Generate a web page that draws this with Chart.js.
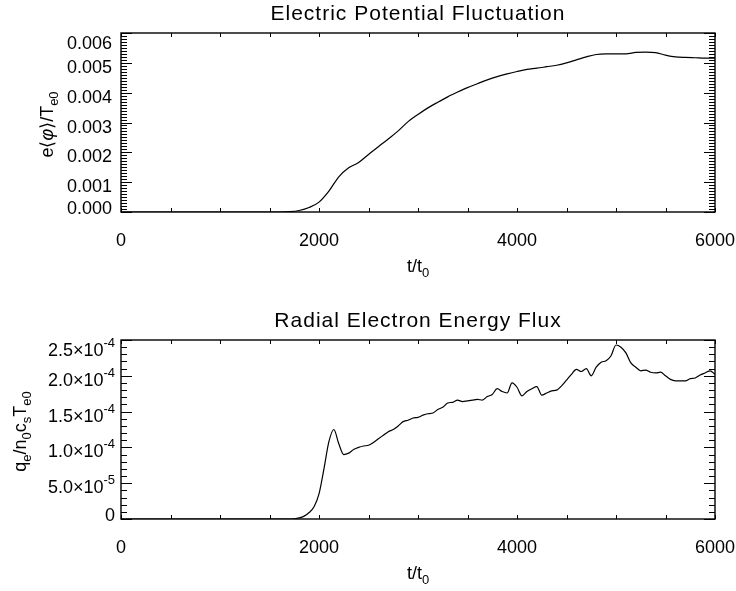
<!DOCTYPE html>
<html>
<head>
<meta charset="utf-8">
<title>Potential and flux</title>
<script src="https://cdn.jsdelivr.net/npm/chart.js@4.4.1/dist/chart.umd.min.js"></script>
<style>
  html, body { margin: 0; padding: 0; background: #fff; }
  #wrap { position: relative; width: 736px; height: 591px; }
  canvas { position: absolute; left: 0; }
</style>
</head>
<body>
<div id="wrap">
  <canvas id="phiChart" width="736" height="295" style="top:0"></canvas>
  <canvas id="fluxChart" width="736" height="296" style="top:295px"></canvas>
</div>
<script>
// --- data ---
const xTickVals = [0, 2000, 4000, 6000];
const xTickLabels = ['0', '2000', '4000', '6000'];

// potential fluctuation e<phi>/Te0 vs t/t0
const phiTime = [0, 1600, 1700, 1800, 1900, 2000, 2100, 2200, 2300, 2400, 2500, 2600, 2700, 2800, 2900,
  3000, 3100, 3200, 3300, 3400, 3500, 3600, 3700, 3800, 3900, 4000, 4100, 4200, 4300, 4400, 4500,
  4600, 4700, 4800, 4900, 5000, 5100, 5200, 5300, 5400, 5500, 5600, 5700, 5800, 5900, 6000];
const phiVals = [0, 0, 0.00001, 0.00005, 0.00015, 0.00033, 0.0007, 0.00118, 0.00148, 0.00166, 0.00193,
  0.00219, 0.00245, 0.00272, 0.00303, 0.00327, 0.00349, 0.00368, 0.00386, 0.00402, 0.00417, 0.0043,
  0.00443, 0.00454, 0.00463, 0.00471, 0.00478, 0.00482, 0.00487, 0.00492, 0.005, 0.0051, 0.0052,
  0.00528, 0.0053, 0.0053, 0.0053, 0.00535, 0.00536, 0.00534, 0.00526, 0.0052, 0.00518, 0.00517,
  0.00516, 0.00516];
const phiTicks = [0, 0.001, 0.002, 0.003, 0.004, 0.005, 0.006];
const phiTickLabels = ['0.000', '0.001', '0.002', '0.003', '0.004', '0.005', '0.006'];

// radial electron energy flux qe/(n0 cs Te0) vs t/t0
const fluxTime = [0, 1600, 1700, 1750, 1800, 1850, 1900, 1950, 2000, 2050, 2100, 2150, 2200, 2250,
  2300, 2350, 2400, 2450, 2500, 2550, 2600, 2650, 2700, 2750, 2800, 2850, 2900, 2950, 3000, 3050,
  3100, 3150, 3200, 3250, 3300, 3350, 3400, 3450, 3500, 3550, 3600, 3650, 3700, 3750, 3800, 3850,
  3900, 3950, 4000, 4050, 4100, 4150, 4200, 4250, 4300, 4350, 4400, 4450, 4500, 4550, 4600, 4650,
  4700, 4750, 4800, 4850, 4900, 4950, 5000, 5050, 5100, 5150, 5200, 5250, 5300, 5350, 5400, 5450,
  5500, 5550, 5600, 5650, 5700, 5750, 5800, 5850, 5900, 5950, 6000];
const fluxVals = [0, 0, 0, 0.3e-6, 1.5e-6, 4e-6, 9e-6, 1.7e-5, 3.5e-5, 7.0e-5, 1.08e-4, 1.25e-4,
  1.05e-4, 9.0e-5, 9.2e-5, 9.7e-5, 1.0e-4, 1.02e-4, 1.03e-4, 1.07e-4, 1.12e-4, 1.17e-4, 1.22e-4,
  1.25e-4, 1.30e-4, 1.36e-4, 1.38e-4, 1.41e-4, 1.42e-4, 1.45e-4, 1.47e-4, 1.48e-4, 1.53e-4, 1.56e-4,
  1.62e-4, 1.63e-4, 1.66e-4, 1.64e-4, 1.65e-4, 1.66e-4, 1.67e-4, 1.66e-4, 1.71e-4, 1.74e-4, 1.82e-4,
  1.78e-4, 1.76e-4, 1.90e-4, 1.84e-4, 1.72e-4, 1.78e-4, 1.82e-4, 1.85e-4, 1.73e-4, 1.76e-4, 1.79e-4,
  1.80e-4, 1.86e-4, 1.94e-4, 2.02e-4, 2.09e-4, 2.06e-4, 2.10e-4, 2.00e-4, 2.12e-4, 2.19e-4, 2.21e-4,
  2.28e-4, 2.43e-4, 2.40e-4, 2.32e-4, 2.18e-4, 2.12e-4, 2.07e-4, 2.08e-4, 2.05e-4, 2.04e-4, 2.05e-4,
  2.00e-4, 1.95e-4, 1.93e-4, 1.93e-4, 1.93e-4, 1.96e-4, 1.97e-4, 2.01e-4, 2.04e-4, 2.07e-4, 2.02e-4];
const fluxTicks = [0, 5e-5, 1e-4, 1.5e-4, 2e-4, 2.5e-4];
const fluxMant = ['0', '5.0\u00d710', '1.0\u00d710', '1.5\u00d710', '2.0\u00d710', '2.5\u00d710'];
const fluxExp = ['', '-5', '-4', '-4', '-4', '-4'];

const FONT = '"Liberation Sans", Arial, Helvetica, sans-serif';

// text made of runs: [text, kind] where kind is '', 'it', 'sub' or 'sup'
function runFont(kind) {
  if (kind === 'sub' || kind === 'sup') return `13px ${FONT}`;
  if (kind === 'it') return `italic 18px ${FONT}`;
  return `18px ${FONT}`;
}
function runShift(kind) {
  return kind === 'sub' ? 5 : kind === 'sup' ? -9 : 0;
}
function richWidth(ctx, runs) {
  let w = 0;
  runs.forEach(([s, k]) => { ctx.font = runFont(k); w += ctx.measureText(s).width; });
  return w;
}
// align: 'left' | 'center' | 'right', y is baseline
function drawRich(ctx, runs, x, y, align) {
  const w = richWidth(ctx, runs);
  let cx = align === 'center' ? x - w / 2 : align === 'right' ? x - w : x;
  ctx.textAlign = 'left';
  ctx.textBaseline = 'alphabetic';
  runs.forEach(([s, k]) => {
    ctx.font = runFont(k);
    ctx.fillText(s, cx, y + runShift(k));
    cx += ctx.measureText(s).width;
  });
}

// boxed axes with inward ticks on all four sides
const idlFrame = {
  id: 'idlFrame',
  afterDatasetsDraw(chart, args, o) {
    const { ctx, chartArea: a, scales: { x, y } } = chart;
    ctx.save();
    ctx.strokeStyle = '#000';
    ctx.fillStyle = '#000';

    ctx.lineWidth = 1.4;
    ctx.strokeRect(a.left, a.top, a.right - a.left, a.bottom - a.top);

    ctx.lineWidth = 1;
    ctx.beginPath();
    const nx = Math.round((x.max - x.min) / o.xMinor);
    for (let i = 0; i <= nx; i++) {
      const px = Math.round(x.getPixelForValue(x.min + i * o.xMinor)) + 0.5;
      ctx.moveTo(px, a.bottom); ctx.lineTo(px, a.bottom - 4);
      ctx.moveTo(px, a.top); ctx.lineTo(px, a.top + 4);
    }
    const ny = Math.round((y.max - y.min) / o.yMinor);
    for (let i = 0; i <= ny; i++) {
      const py = Math.round(y.getPixelForValue(y.min + i * o.yMinor)) + 0.5;
      const len = i % o.yPerMajor === 0 ? 11 : 6;
      ctx.moveTo(a.left, py); ctx.lineTo(a.left + len, py);
      ctx.moveTo(a.right, py); ctx.lineTo(a.right - len, py);
    }
    ctx.stroke();

    // x tick labels
    ctx.font = `18px ${FONT}`;
    ctx.textAlign = 'center';
    ctx.textBaseline = 'alphabetic';
    xTickVals.forEach((v, i) => ctx.fillText(xTickLabels[i], x.getPixelForValue(v), a.bottom + 34));

    // y tick labels, kept inside the box height
    o.yTicks.forEach((v, i) => {
      let cy = y.getPixelForValue(v) + 3.5;
      cy = Math.min(Math.max(cy, a.top + 9.5), a.bottom - 5);
      drawRich(ctx, o.yLabels[i], o.yLabelRight, cy + 6.5, 'right');
    });

    // titles
    const mid = (a.left + a.right) / 2;
    ctx.font = `21px ${FONT}`;
    ctx.letterSpacing = '1px';
    ctx.textAlign = 'center';
    ctx.fillText(o.title, mid, a.top - 13.5);
    ctx.letterSpacing = '0px';

    drawRich(ctx, [['t/t', ''], ['0', 'sub']], mid, a.bottom + 60, 'center');

    ctx.translate(o.yTitleX, (a.top + a.bottom) / 2 + 2);
    ctx.rotate(-Math.PI / 2);
    drawRich(ctx, o.yTitle, 0, 0, 'center');
    ctx.restore();
  }
};

function makeChart(id, xs, ys, yMax, pad, frame) {
  return new Chart(document.getElementById(id), {
    type: 'line',
    data: {
      datasets: [{
        data: xs.map((t, i) => ({ x: t, y: ys[i] })),
        borderColor: '#000',
        borderWidth: 1.2,
        pointRadius: 0,
        cubicInterpolationMode: 'monotone',
        fill: false
      }]
    },
    options: {
      responsive: false,
      animation: false,
      layout: { padding: pad },
      scales: {
        x: { type: 'linear', min: 0, max: 6000, display: false },
        y: { type: 'linear', min: 0, max: yMax, display: false }
      },
      plugins: { legend: { display: false }, tooltip: { enabled: false }, idlFrame: frame }
    },
    plugins: [idlFrame]
  });
}

makeChart('phiChart', phiTime, phiVals, 0.006,
  { left: 121, right: 21, top: 33, bottom: 83 },
  {
    title: 'Electric Potential Fluctuation',
    xMinor: 500, yMinor: 0.0001, yPerMajor: 10,
    yTicks: phiTicks,
    yLabels: phiTickLabels.map(s => [[s, '']]),
    yLabelRight: 112,
    yTitleX: 53,
    yTitle: [['e\u27e8', ''], ['\u03c6', 'it'], ['\u27e9/T', ''], ['e0', 'sub']]
  });

makeChart('fluxChart', fluxTime, fluxVals, 2.5e-4,
  { left: 121, right: 21, top: 45, bottom: 72 },
  {
    title: 'Radial Electron Energy Flux',
    xMinor: 500, yMinor: 1e-5, yPerMajor: 5,
    yTicks: fluxTicks,
    yLabels: fluxMant.map((m, i) => fluxExp[i] ? [[m, ''], [fluxExp[i], 'sup']] : [[m, '']]),
    yLabelRight: 115,
    yTitleX: 26,
    yTitle: [['q', ''], ['e', 'sub'], ['/n', ''], ['0', 'sub'], ['c', ''], ['s', 'sub'], ['T', ''], ['e0', 'sub']]
  });
</script>
</body>
</html>
